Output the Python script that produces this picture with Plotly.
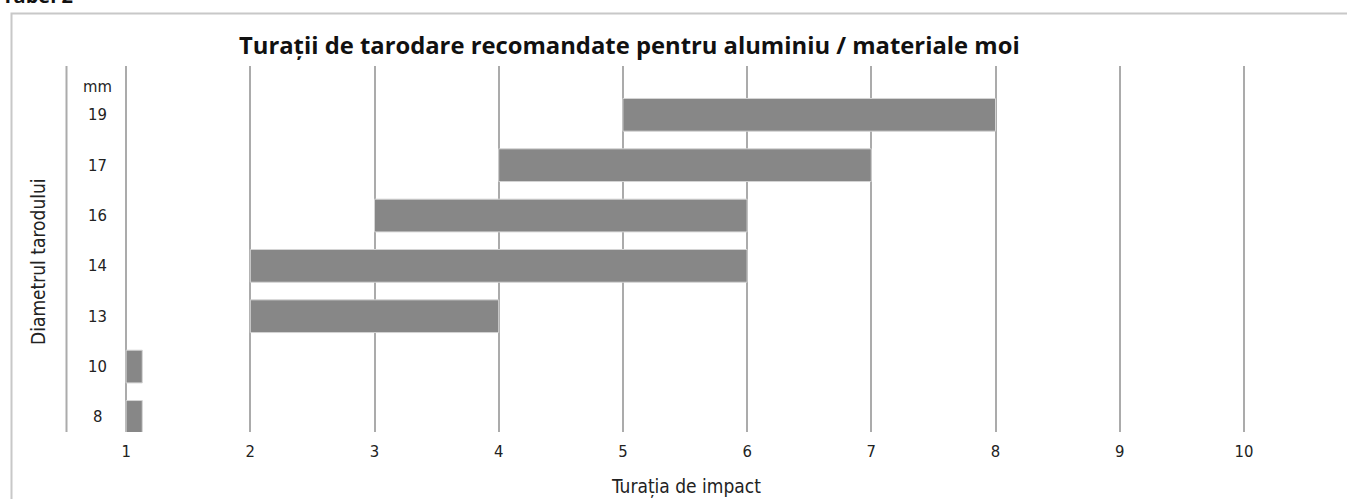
import plotly.graph_objects as go

# Data
diameters = ["8", "10", "13", "14", "16", "17", "19"]
speed_start = [1, 1, 2, 2, 3, 4, 5]
speed_end = [1.13, 1.13, 4, 6, 6, 7, 8]
x_ticks = [1, 2, 3, 4, 5, 6, 7, 8, 9, 10]
unit_label = "mm"
title_text = "Turații de tarodare recomandate pentru aluminiu / materiale moi"
x_title = "Turația de impact"
y_title = "Diametrul tarodului"
header_text = "Tabel 2"

W, H = 1347, 499
ML, MR, MT, MB = 64, 41, 66, 67
pw = W - ML - MR
ph = H - MT - MB

def px(x):
    return (x - ML) / pw

def py(y):
    return (H - MB - y) / ph

LABEL_FONT = "DejaVu Sans Condensed, Roboto, sans-serif"
GRID = "#ababab"
TXT = "#222222"

fig = go.Figure()
fig.add_trace(go.Bar(
    y=diameters,
    x=[e - s for s, e in zip(speed_start, speed_end)],
    base=speed_start,
    orientation="h",
    width=0.65,
    marker=dict(color="#878787", line=dict(color="#d4d4d4", width=1)),
    hoverinfo="skip",
))

annotations = []
for i, d in enumerate(diameters):
    annotations.append(dict(x=px(97), xref="paper", y=i, yref="y", text=d,
                            showarrow=False, xanchor="center", yanchor="middle",
                            font=dict(family=LABEL_FONT, size=16.5, color=TXT)))
annotations.append(dict(x=px(97), xref="paper", y=py(87), yref="paper", text=unit_label,
                        showarrow=False, xanchor="center", yanchor="middle",
                        font=dict(family=LABEL_FONT, size=16.5, color=TXT)))
annotations.append(dict(x=px(629), xref="paper", y=py(45), yref="paper", text="<b>" + title_text + "</b>",
                        showarrow=False, xanchor="center", yanchor="middle",
                        font=dict(family="Open Sans, sans-serif", size=23.8, color="#111")))
annotations.append(dict(x=px(686), xref="paper", y=py(486), yref="paper", text=x_title,
                        showarrow=False, xanchor="center", yanchor="middle",
                        font=dict(family=LABEL_FONT, size=19, color=TXT)))
annotations.append(dict(x=px(38), xref="paper", y=py(262), yref="paper", text=y_title,
                        textangle=-90, showarrow=False, xanchor="center", yanchor="middle",
                        font=dict(family=LABEL_FONT, size=19, color=TXT)))
annotations.append(dict(x=px(0), xref="paper", y=py(11), yref="paper", text="<b>" + header_text + "</b>",
                        showarrow=False, xanchor="left", yanchor="bottom",
                        font=dict(family="Open Sans, sans-serif", size=20, color="#111")))

shapes = [
    dict(type="rect", xref="paper", yref="paper",
         x0=px(11.5), x1=px(1360), y0=py(13.5), y1=py(520),
         line=dict(color="#c8c8c8", width=2), fillcolor="rgba(0,0,0,0)", layer="below"),
    dict(type="line", xref="paper", yref="paper",
         x0=px(66.5), x1=px(66.5), y0=0, y1=1,
         line=dict(color=GRID, width=2), layer="below"),
]

fig.update_layout(
    width=W, height=H,
    margin=dict(l=ML, r=MR, t=MT, b=MB, pad=0),
    paper_bgcolor="white", plot_bgcolor="white",
    showlegend=False,
    annotations=annotations,
    shapes=shapes,
    xaxis=dict(range=[0.5, 10.5], tickmode="array", tickvals=x_ticks,
               ticktext=[str(t) for t in x_ticks],
               showgrid=True, gridcolor=GRID, gridwidth=2, zeroline=False,
               showline=False, ticks="", ticklabelstandoff=7,
               tickfont=dict(family=LABEL_FONT, size=16.5, color=TXT), fixedrange=True),
    yaxis=dict(type="category", categoryorder="array", categoryarray=diameters,
               range=[-0.3, 6.97], showgrid=False, zeroline=False,
               showline=False, showticklabels=False, ticks="", fixedrange=True),
)

fig.write_html("out.html", config={"displayModeBar": False},
               post_script="document.body.style.margin='0';")
